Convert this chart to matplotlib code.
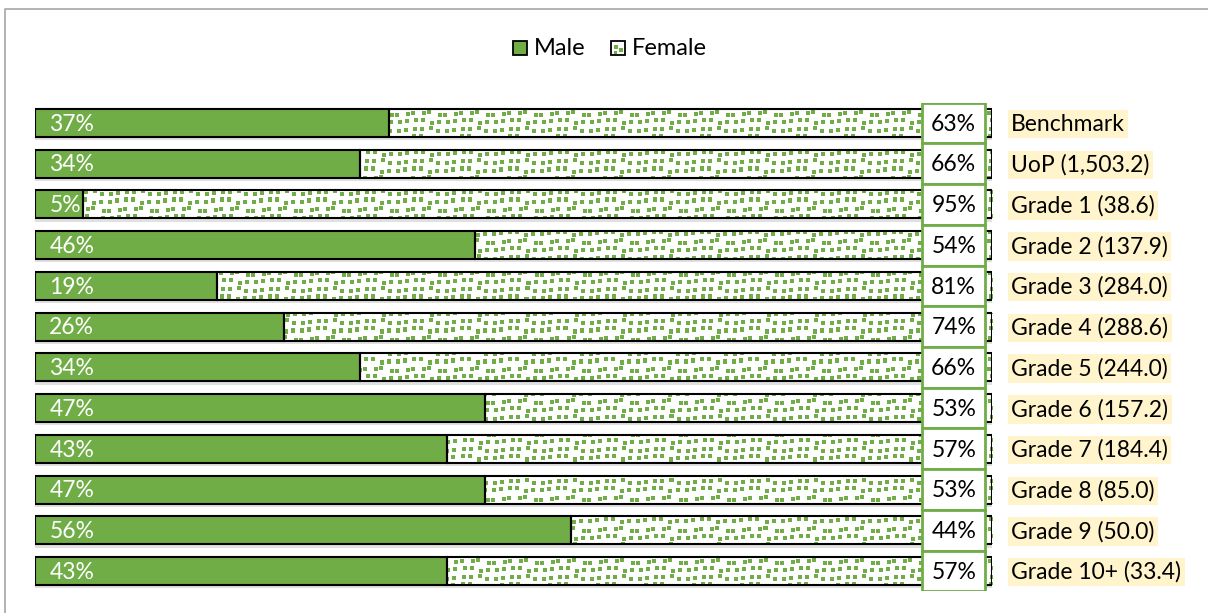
import numpy as np
import matplotlib
matplotlib.use('Agg')
import matplotlib.pyplot as plt
from matplotlib.patches import Rectangle
from matplotlib.lines import Line2D

plt.rcParams['font.family'] = ['Lato', 'DejaVu Sans']

categories = ['Benchmark', 'UoP (1,503.2)', 'Grade 1 (38.6)', 'Grade 2 (137.9)',
              'Grade 3 (284.0)', 'Grade 4 (288.6)', 'Grade 5 (244.0)', 'Grade 6 (157.2)',
              'Grade 7 (184.4)', 'Grade 8 (85.0)', 'Grade 9 (50.0)', 'Grade 10+ (33.4)']
male = [37, 34, 5, 46, 19, 26, 34, 47, 43, 47, 56, 43]
female = [63, 66, 95, 54, 81, 74, 66, 53, 57, 53, 44, 57]

green = '#70AD47'
bar_h = 0.69
fs = 16.5

fig = plt.figure(figsize=(12.08, 6.13), dpi=100)
ax = fig.add_axes([35 / 1208, 1 - 591.4 / 613, 957 / 1208, 488.8 / 613])

y = np.arange(len(categories))

# soft shadow under each bar
ax.barh(y + 0.08, [m + f for m, f in zip(male, female)], height=bar_h,
        color='black', alpha=0.12, lw=0, zorder=1)

ax.barh(y, male, height=bar_h, color=green, edgecolor='black', lw=1.5, zorder=3)
fem = ax.barh(y, female, left=male, height=bar_h, color='white', lw=0, zorder=2)

# confetti texture for the female part (pixel-sized cells)
H, W = 489, 957
tex = np.ones((H, W, 3))
g = np.array(matplotlib.colors.to_rgb(green))
cell = 8
for ci in range(H // cell + 1):
    for cj in range(W // cell + 1):
        dy = (ci * ci + cj * 3 + (cj // 3)) % 4
        dx = (ci * 3 + cj * cj) % 4
        r0, c0 = ci * cell + dy, cj * cell + dx
        tex[r0:r0 + 4, c0:c0 + 4] = g
for p in fem.patches:
    im = ax.imshow(tex, extent=(0, 100, len(categories) - 0.5, -0.5),
                   interpolation='nearest', aspect='auto', zorder=2.5)
    im.set_clip_path(p)
ax.barh(y, female, left=male, height=bar_h, fill=False, edgecolor='black',
        lw=1.5, zorder=3)

for i in range(len(categories)):
    ax.text(1.5, i + 0.03, f'{male[i]}%', color='white', fontsize=fs,
            ha='left', va='center', zorder=5)
    ax.add_patch(Rectangle((92.7, i - 0.5), 6.6, 1.0, facecolor='white',
                           edgecolor=green, lw=2, zorder=4))
    ax.text(96.0, i + 0.03, f'{female[i]}%', color='black', fontsize=fs,
            ha='center', va='center', zorder=5)
    ax.text(102.0, i + 0.03, categories[i], color='black', fontsize=fs, ha='left',
            va='center', clip_on=False, zorder=5,
            bbox=dict(boxstyle='square,pad=0.15', fc='#FFF4CC', ec='none'))

ax.set_xlim(0, 100)
ax.set_ylim(len(categories) - 0.5, -0.5)
ax.axis('off')

# legend
def fig_rect(x, yy, w, h, **kw):
    fig.add_artist(Rectangle((x / 1208, 1 - (yy + h) / 613), w / 1208, h / 613,
                             transform=fig.transFigure, **kw))

fig_rect(513, 41, 14, 14, facecolor=green, edgecolor='black', lw=1.3)
fig.text(534 / 1208, 1 - 48.5 / 613, 'Male', fontsize=17, va='center', ha='left')
fig_rect(611, 41, 14, 14, facecolor='white', edgecolor='black', lw=1.3)
fig_rect(614, 45, 4, 4, facecolor=green, lw=0)
fig_rect(619, 48, 4, 4, facecolor=green, lw=0)
fig_rect(614, 51, 3, 3, facecolor=green, lw=0)
fig.text(632 / 1208, 1 - 48.5 / 613, 'Female', fontsize=17, va='center', ha='left')

# chart area border (top and left visible)
fig.add_artist(Line2D([4.5 / 1208, 4.5 / 1208, 1], [0, 1 - 9 / 613, 1 - 9 / 613],
                      transform=fig.transFigure, color='#A6A6A6', lw=1.2))

fig.savefig('out.png', dpi=100)
